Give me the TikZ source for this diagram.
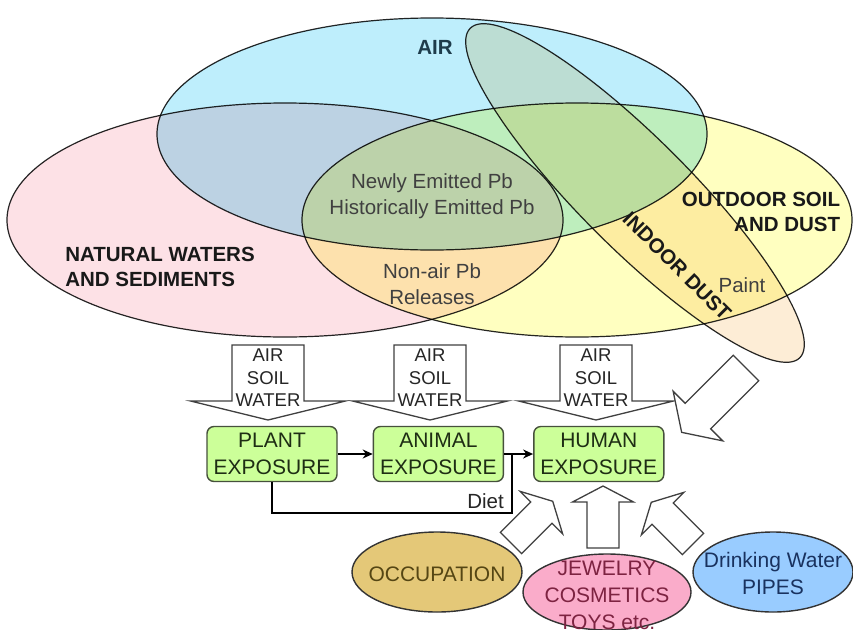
\documentclass[tikz,border=0pt]{standalone}
\usepackage{fontspec}
\setmainfont{Liberation Sans}
\usetikzlibrary{arrows,positioning,calc,shapes.geometric,arrows.meta}

\definecolor{airblue}{RGB}{190,238,252}
\definecolor{waterpink}{RGB}{253,225,230}
\definecolor{soilyellow}{RGB}{255,255,192}
\definecolor{dustpeach}{RGB}{253,237,214}
\definecolor{airtext}{RGB}{30,60,75}
\definecolor{boxgreen}{RGB}{204,255,153}
\definecolor{boxedge}{RGB}{70,80,60}
\definecolor{boxtext}{RGB}{30,45,20}
\definecolor{occgold}{RGB}{228,200,120}
\definecolor{occtext}{RGB}{85,70,20}
\definecolor{jewelpink}{RGB}{250,172,202}
\definecolor{jeweltext}{RGB}{125,35,65}
\definecolor{pipeblue}{RGB}{153,204,255}
\definecolor{pipetext}{RGB}{25,50,95}

\begin{document}
\begin{tikzpicture}[x=1pt,y=-1pt]
	\tikzset{venn/.style = {shape=ellipse, draw=black!85, line width=1.2pt, inner sep=0pt},
		vennlbl/.style = {font=\bfseries\fontsize{20.5}{25}\selectfont, text=black!90, inner sep=0pt},
		inlbl/.style = {font=\fontsize{20.5}{26}\selectfont, text=black!75, align=center, inner sep=0pt},
		expbox/.style = {shape=rectangle, rounded corners=7pt, draw=boxedge, line width=1.4pt, fill=boxgreen, text=boxtext, minimum width=130pt, minimum height=55pt, align=center, inner sep=0pt, font=\fontsize{21}{27}\selectfont},
		srcell/.style = {shape=ellipse, draw=black!80, line width=1.4pt, inner sep=0pt},
		srctxt/.style = {font=\fontsize{21}{27}\selectfont, align=center, inner sep=0pt},
		arrowtxt/.style = {font=\fontsize{18.5}{22.5}\selectfont, text=black!85, align=center, inner sep=0pt},
		blockline/.style = {draw=black!75, line width=1.3pt, fill=white, line join=miter},
		flow/.style = {->, >={Stealth[length=10pt,width=9pt]}, line width=2.4pt},
		pics/blockarrow/.style n args = {4}{code={
			\path[blockline] (-#1,0) -- (#1,0) -- (#1,#3) -- (#2,#3) -- (0,#3+#4) -- (-#2,#3) -- (-#1,#3) -- cycle;}}
	}
	\useasboundingbox (0,0) rectangle (853,629);
	\fill[white] (0,0) rectangle (853,629);
	
	% overlapping media
	\begin{scope}[blend mode=multiply]
		\node[venn, fill=waterpink, minimum width=556pt, minimum height=234pt] (waters) at (285,220) {};
		\node[venn, fill=soilyellow, minimum width=550pt, minimum height=234pt] (soil) at (577,220) {};
		\node[venn, fill=airblue, minimum width=550pt, minimum height=232pt] (air) at (432,134) {};
		\node[venn, fill=dustpeach, minimum width=466pt, minimum height=110pt, rotate=-45] (indoor) at (635,193) {};
	\end{scope}
	
	\node[vennlbl, text=airtext] (airlbl) at (435,47) {AIR};
	\node[vennlbl, align=left] (waterslbl) at (160,267) {NATURAL WATERS\\AND SEDIMENTS};
	\node[vennlbl, align=right] (soillbl) at (761,212) {OUTDOOR SOIL\\AND DUST};
	\node[vennlbl, rotate=-45] (indoorlbl) at (677,266) {INDOOR DUST};
	\node[inlbl] (newly) at (432,196) {Newly Emitted Pb\\Historically Emitted Pb};
	\node[inlbl] (nonair) at (432,284) {Non-air Pb\\Releases};
	\node[inlbl] (paint) at (742,285) {Paint};
	
	% uptake
	\foreach \x/\n in {268/plant, 430/animal, 596/human}{
		\pic at (\x,345) {blockarrow={36}{77.5}{56}{19}};
		\node[arrowtxt] (to\n) at (\x,378) {AIR\\SOIL\\WATER};
	}
	
	\node[expbox] (plant) at (272,454) {PLANT\\EXPOSURE};
	\node[expbox, right=35pt of plant] (animal) {ANIMAL\\EXPOSURE};
	\node[expbox, right=29pt of animal] (human) {HUMAN\\EXPOSURE};
	
	\coordinate (join) at (512,454);
	\coordinate (dietcorner) at (512,513);
	\draw[flow] (plant) -- (animal);
	\draw[flow] (animal) -- (human);
	\draw[line width=2.4pt] (plant.south) |- (dietcorner) -- (join);
	\node[inlbl, text=black!85, anchor=base east] (diet) at (504,508) {Diet};
	
	% other sources
	\node[srcell, fill=occgold, minimum width=170pt, minimum height=80pt] (occup) at (437,572) {};
	\node[srcell, fill=jewelpink, minimum width=168pt, minimum height=76pt] (jewel) at (607,592) {};
	\node[srcell, fill=pipeblue, minimum width=160pt, minimum height=80pt] (pipes) at (773,572) {};
	\node[srctxt, text=occtext] (occuptxt) at (437,574) {OCCUPATION};
	\node[srctxt, text=jeweltext] (jeweltxt) at (607,595) {JEWELRY\\COSMETICS\\TOYS etc.};
	\node[srctxt, text=pipetext] (pipestxt) at (773,573) {Drinking Water\\PIPES};
	
	\pic[rotate=-45] at (746,368) {blockarrow={18}{35}{68}{23}};
	\pic[rotate=135] at (511,543) {blockarrow={15}{30}{43}{16}};
	\pic[rotate=180] at (603,548) {blockarrow={16}{30.5}{46}{16}};
	\pic[rotate=-135] at (693,544) {blockarrow={15}{30}{43}{16}};
\end{tikzpicture}
\end{document}
